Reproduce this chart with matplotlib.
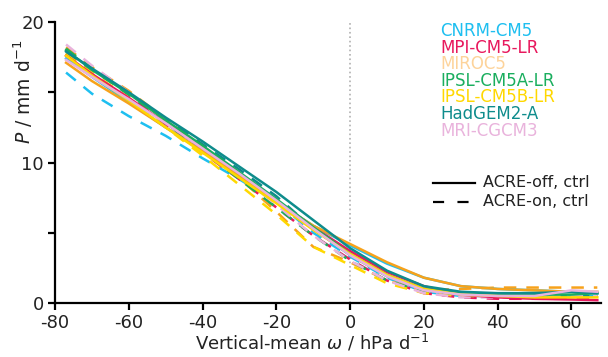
import numpy as np
import matplotlib
matplotlib.use("Agg")
import matplotlib.pyplot as plt

plt.rcParams['font.family'] = ['DejaVu Sans']
plt.rcParams['mathtext.fontset'] = 'dejavusans'
plt.rcParams['axes.unicode_minus'] = False

# omega bins (hPa/d)
omega = [-77, -70, -60, -50, -40, -30, -20, -10, 0, 10, 20, 30, 40, 50, 60, 67]

models = ['CNRM-CM5', 'MPI-CM5-LR', 'MIROC5', 'IPSL-CM5A-LR', 'IPSL-CM5B-LR', 'HadGEM2-A', 'MRI-CGCM3']
line_colors = ['#1ebff0', '#e8185d', '#f7a21b', '#1aae5e', '#ffd800', '#0e8c8c', '#e9b3dc']
text_colors = ['#1ebff0', '#e8185d', '#fdd39a', '#1aae5e', '#ffd800', '#0e8c8c', '#e9b3dc']

# ACRE-off, ctrl (solid)
p_off = {
    'CNRM-CM5':     [17.4, 16.1, 14.3, 12.5, 10.8, 9.0, 7.2, 5.5, 4.1, 2.8, 1.8, 1.2, 1.0, 0.9, 0.8, 0.7],
    'MPI-CM5-LR':   [17.6, 16.3, 14.6, 12.8, 11.0, 9.2, 7.3, 5.4, 3.7, 2.2, 1.2, 0.6, 0.4, 0.3, 0.25, 0.2],
    'MIROC5':       [17.1, 15.8, 14.2, 12.5, 10.8, 9.0, 7.2, 5.5, 4.2, 2.9, 1.8, 1.2, 1.0, 0.9, 0.8, 0.8],
    'IPSL-CM5A-LR': [18.0, 16.6, 14.9, 13.0, 11.2, 9.3, 7.4, 5.4, 3.5, 2.0, 1.0, 0.7, 0.6, 0.6, 0.6, 0.7],
    'IPSL-CM5B-LR': [17.6, 16.2, 14.4, 12.5, 10.7, 8.9, 7.1, 5.2, 3.5, 2.0, 1.0, 0.6, 0.5, 0.4, 0.4, 0.4],
    'HadGEM2-A':    [17.9, 16.7, 15.0, 13.2, 11.5, 9.7, 7.9, 5.9, 3.9, 2.3, 1.2, 0.8, 0.7, 0.7, 0.8, 0.7],
    'MRI-CGCM3':    [17.3, 16.1, 14.5, 12.8, 11.0, 9.2, 7.3, 5.3, 3.4, 1.9, 0.9, 0.6, 0.5, 0.5, 0.9, 0.8],
}

# ACRE-on, ctrl (dashed)
p_on = {
    'CNRM-CM5':     [16.4, 14.9, 13.3, 11.9, 10.3, 8.8, 7.2, 5.0, 3.3, 1.8, 0.8, 0.5, 0.5, 0.5, 0.5, 0.5],
    'MPI-CM5-LR':   [17.7, 16.3, 14.5, 12.6, 10.7, 8.8, 6.8, 4.8, 3.1, 1.6, 0.7, 0.4, 0.3, 0.3, 0.3, 0.3],
    'MIROC5':       [18.2, 16.8, 15.1, 13.1, 11.0, 8.9, 6.5, 4.0, 2.9, 1.6, 0.9, 1.0, 1.1, 1.1, 1.1, 1.1],
    'IPSL-CM5A-LR': [18.1, 16.7, 14.8, 12.8, 10.8, 8.8, 6.8, 4.8, 3.0, 1.6, 0.8, 0.5, 0.5, 0.5, 0.5, 0.5],
    'IPSL-CM5B-LR': [17.8, 16.4, 14.6, 12.5, 10.5, 8.4, 6.3, 4.0, 2.7, 1.4, 0.7, 0.5, 0.5, 0.5, 0.5, 0.6],
    'HadGEM2-A':    [17.9, 16.6, 14.9, 13.1, 11.3, 9.5, 7.6, 5.3, 3.4, 1.9, 0.9, 0.6, 0.5, 0.5, 0.5, 0.5],
    'MRI-CGCM3':    [18.4, 16.9, 15.0, 13.0, 11.0, 9.0, 7.0, 4.8, 3.0, 1.6, 0.7, 0.4, 0.4, 0.4, 0.5, 0.5],
}

fig = plt.figure(figsize=(6.08, 3.57), dpi=100)
ax = fig.add_axes([55/608, 1-303/357, 546/608, 281/357])

ax.plot([0, 0], [0, 20], color='#b0b0b0', linestyle=':', linewidth=1.2, zorder=1)

for m, c in zip(models, line_colors):
    ax.plot(omega, p_on[m], color=c, linestyle=(0, (5, 4)), linewidth=1.8, zorder=2)
for m, c in zip(models, line_colors):
    ax.plot(omega, p_off[m], color=c, linestyle='-', linewidth=1.8, zorder=3)

ax.set_xlim(-80, 68)
ax.set_ylim(0, 20)
ax.set_xticks([-80, -60, -40, -20, 0, 20, 40, 60])
ax.set_yticks([0, 5, 10, 15, 20])
ax.set_yticklabels(['0', '', '10', '', '20'])
for s in ['top', 'right']:
    ax.spines[s].set_visible(False)
for s in ['left', 'bottom']:
    ax.spines[s].set_linewidth(1.6)
ax.tick_params(direction='out', length=5, width=1.6, labelsize=13, colors='black', labelcolor='#222222', pad=3)
ax.set_xlabel(r'Vertical-mean $\omega$ / hPa d$^{-1}$', fontsize=13, color='#222222')
ax.set_ylabel(r'$P$ / mm d$^{-1}$', fontsize=13.5, color='#222222')
ax.xaxis.set_label_coords(0.4716, -0.105)
ax.yaxis.set_label_coords(-0.037, 0.753)

# coloured model legend
for i, (m, c) in enumerate(zip(models, text_colors)):
    fig.text(440/608, 1-(31+16.6*i)/357, m, color=c, fontsize=12, va='center', ha='left')

# line style legend
fig.lines.append(plt.Line2D([433/608, 475/608], [1-183/357, 1-183/357], color='black', lw=1.6, transform=fig.transFigure))
fig.lines.append(plt.Line2D([433/608, 475/608], [1-202/357, 1-202/357], color='black', lw=1.6, linestyle=(0, (5, 6)), transform=fig.transFigure))
fig.text(483/608, 1-183/357, 'ACRE-off, ctrl', fontsize=11.5, va='center', ha='left', color='#222222')
fig.text(483/608, 1-202/357, 'ACRE-on, ctrl', fontsize=11.5, va='center', ha='left', color='#222222')

plt.savefig('out.png', dpi=100)
